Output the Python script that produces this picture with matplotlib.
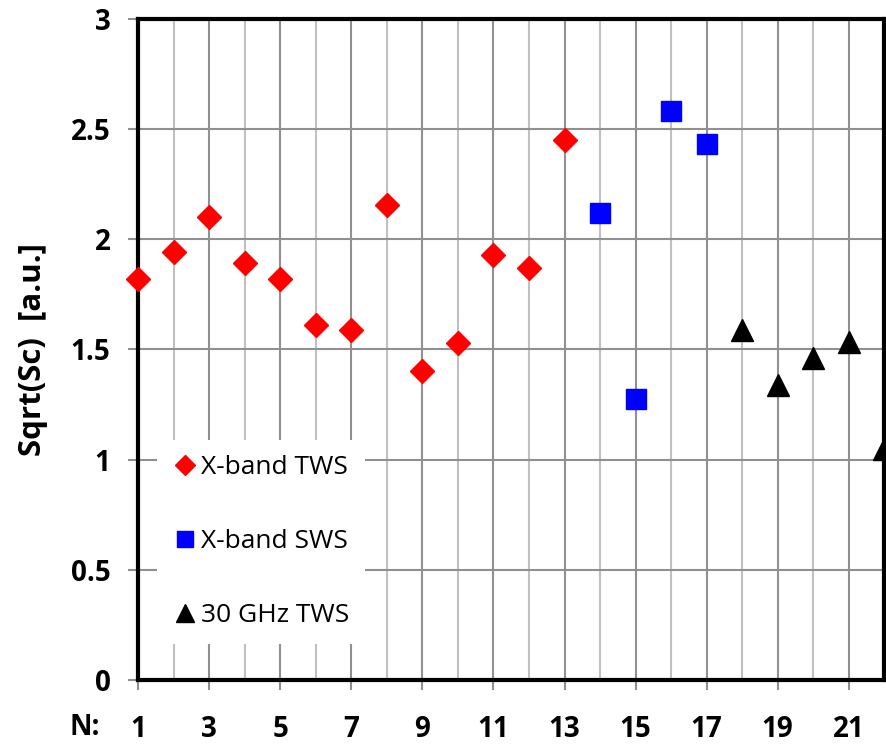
import matplotlib
matplotlib.use("Agg")
import matplotlib.pyplot as plt
from matplotlib.ticker import MultipleLocator, FormatStrFormatter

# data
tws_n = [1, 2, 3, 4, 5, 6, 7, 8, 9, 10, 11, 12, 13]
tws_v = [1.82, 1.94, 2.10, 1.89, 1.82, 1.61, 1.59, 2.155, 1.40, 1.53, 1.93, 1.87, 2.45]

sws_n = [14, 15, 16, 17]
sws_v = [2.12, 1.275, 2.58, 2.43]

ghz_n = [18, 19, 20, 21, 22]
ghz_v = [1.59, 1.34, 1.46, 1.535, 1.05]

x_ticks = [1, 3, 5, 7, 9, 11, 13, 15, 17, 19, 21]

plt.rcParams["font.family"] = ["Open Sans", "DejaVu Sans"]
plt.rcParams["font.weight"] = "bold"

fig = plt.figure(figsize=(8.86, 7.45), dpi=100)
ax = fig.add_axes([0.156, 0.087, 0.842, 0.888])

ax.plot(tws_n, tws_v, "D", color="#ff0000", ms=12.5, mec="#ff0000", label="X-band TWS",
        zorder=3, clip_on=False)
ax.plot(sws_n, sws_v, "s", color="#0000ff", ms=14, mec="#0000ff", label="X-band SWS", zorder=3)
ax.plot(ghz_n, ghz_v, "^", color="black", ms=16, label="30 GHz TWS", zorder=3)

ax.set_xlim(1, 22)
ax.set_ylim(0, 3)
ax.set_xticks(x_ticks)
ax.xaxis.set_minor_locator(MultipleLocator(1))
ax.yaxis.set_major_locator(MultipleLocator(0.5))
ax.yaxis.set_major_formatter(FormatStrFormatter("%g"))

ax.grid(which="minor", axis="x", color="#c0c0c0", lw=1.5)
ax.grid(which="major", axis="x", color="#909090", lw=1.5)
ax.grid(which="major", axis="y", color="#909090", lw=1.5)
ax.set_axisbelow(True)

ax.tick_params(axis="both", which="major", direction="out", length=7, width=1.5,
               color="#909090", labelsize=20)
ax.tick_params(axis="y", which="major", pad=13)
ax.tick_params(axis="x", which="major", pad=18)
ax.tick_params(axis="x", which="minor", length=0)

for s in ax.spines.values():
    s.set_linewidth(3)
    s.set_color("black")

ax.set_ylabel("Sqrt(Sc)  [a.u.]", fontsize=22.5, fontweight="bold", labelpad=16)
fig.text(0.079, 0.023, "N:", fontsize=20, fontweight="bold", ha="left", va="center")

leg = ax.legend(loc="lower left", bbox_to_anchor=(0.008, 0.035), frameon=True, facecolor="white",
                edgecolor="none", framealpha=1, fancybox=False, labelspacing=1.85,
                handletextpad=0.15, handlelength=0.9, borderpad=0.6,
                prop={"size": 19, "weight": "normal"}, markerscale=0.8)

plt.savefig("out.png", dpi=100)
